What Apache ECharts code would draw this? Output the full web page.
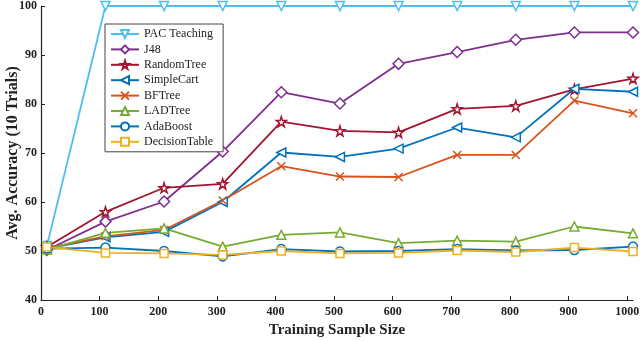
<!DOCTYPE html>
<html>
<head>
<meta charset="utf-8">
<script src="https://cdn.jsdelivr.net/npm/echarts@6/dist/echarts.min.js"></script>
<style>
    html, body { margin: 0; padding: 0; background: #fff; }
    #chart { width: 640px; height: 341px; }
</style>
</head>
<body>
<div id="chart"></div>
<script>
    // training sample sizes (x)
    const sampleSizes = [10, 110, 210, 310, 410, 510, 610, 710, 810, 910, 1010];

    // avg. accuracy per method
    const pacTeaching   = [51.0, 100, 100, 100, 100, 100, 100, 100, 100, 100, 100];
    const j48           = [50.2, 56.0, 60.1, 70.3, 82.4, 80.1, 88.2, 90.6, 93.1, 94.6, 94.6];
    const randomTree    = [50.8, 58.0, 62.9, 63.7, 76.4, 74.5, 74.2, 79.0, 79.6, 83.0, 85.2];
    const simpleCart    = [50.5, 52.8, 53.9, 60.0, 70.1, 69.2, 70.9, 75.2, 73.2, 83.1, 82.5];
    const bfTree        = [50.6, 53.0, 54.3, 60.3, 67.3, 65.2, 65.1, 69.6, 69.6, 80.7, 78.1];
    const ladTree       = [50.3, 53.7, 54.6, 50.9, 53.3, 53.8, 51.6, 52.1, 51.9, 55.0, 53.6];
    const adaBoost      = [50.5, 50.7, 50.0, 48.9, 50.4, 49.9, 50.0, 50.4, 50.1, 50.2, 50.9];
    const decisionTable = [50.8, 49.6, 49.5, 49.2, 50.0, 49.5, 49.6, 50.1, 49.8, 50.7, 49.9];

    const STAR = 'path://M50,0 L61,35 L98,35 L68,57 L79,91 L50,70 L21,91 L32,57 L2,35 L39,35 Z';
    const CROSS = 'path://M0,0 L10,10 M10,0 L0,10';

    function pairs(vals){
        return sampleSizes.map((x, i) => [x, vals[i]]);
    }

    function makeSeries(name, vals, color, symbol, rotate, size){
        return {
            name: name,
            type: 'line',
            data: pairs(vals),
            symbol: symbol,
            symbolRotate: rotate || 0,
            symbolSize: size || 9,
            showAllSymbol: true,
            lineStyle: { color: color, width: 1.8 },
            itemStyle: { color: '#fff', borderColor: color, borderWidth: 1.5 },
            emphasis: { disabled: true }
        };
    }

    let chart = echarts.init(document.getElementById('chart'));
    let serif = '"Liberation Serif", "DejaVu Serif", serif';

    let option = {
        animation: false,
        textStyle: { fontFamily: serif },
        grid: { left: 41, right: 7, top: 6, bottom: 41, containLabel: false, outerBoundsMode: 'none' },
        legend: {
            orient: 'vertical',
            left: 105,
            top: 24,
            itemWidth: 28,
            itemHeight: 10,
            itemGap: 3.4,
            padding: [4, 10, 4, 5],
            borderColor: '#444',
            borderWidth: 1,
            backgroundColor: '#fff',
            textStyle: { fontFamily: serif, fontSize: 12, lineHeight: 12, color: '#222' }
        },
        xAxis: {
            type: 'value',
            min: 0,
            max: 1010,
            interval: 100,
            name: 'Training Sample Size',
            nameLocation: 'middle',
            nameGap: 23,
            nameMoveOverlap: false,
            nameTextStyle: { fontFamily: serif, fontSize: 15, fontWeight: 'bold', color: '#222' },
            axisLine: { lineStyle: { color: '#222', width: 1.2 } },
            axisTick: { inside: true, length: 4, lineStyle: { color: '#222' } },
            axisLabel: {
                margin: 6, fontFamily: serif, fontSize: 12, fontWeight: 'bold', color: '#222',
                showMaxLabel: false,
                formatter: v => String(v)
            },
            splitLine: { show: false }
        },
        yAxis: {
            type: 'value',
            min: 40,
            max: 100,
            interval: 10,
            name: 'Avg. Accuracy (10 Trials)',
            nameLocation: 'middle',
            nameGap: 20,
            nameMoveOverlap: false,
            nameTextStyle: { fontFamily: serif, fontSize: 16, fontWeight: 'bold', color: '#222' },
            axisLine: { show: true, lineStyle: { color: '#222', width: 1.2 } },
            axisTick: { show: true, inside: true, length: 4, lineStyle: { color: '#222' } },
            axisLabel: { margin: 4, fontFamily: serif, fontSize: 12, fontWeight: 'bold', color: '#222' },
            splitLine: { show: false }
        },
        series: [
            makeSeries('PAC Teaching', pacTeaching, '#4DBEEE', 'triangle', 180),
            makeSeries('J48', j48, '#7E2F8E', 'diamond', 0, 11),
            makeSeries('RandomTree', randomTree, '#A2142F', STAR, 0, 10),
            makeSeries('SimpleCart', simpleCart, '#0072BD', 'triangle', 90),
            makeSeries('BFTree', bfTree, '#D95319', CROSS, 0, 8),
            makeSeries('LADTree', ladTree, '#77AC30', 'triangle', 0),
            makeSeries('AdaBoost', adaBoost, '#0072BD', 'circle', 0),
            makeSeries('DecisionTable', decisionTable, '#EDB120', 'rect', 0, 8)
        ]
    };
    chart.setOption(option);
</script>
</body>
</html>
